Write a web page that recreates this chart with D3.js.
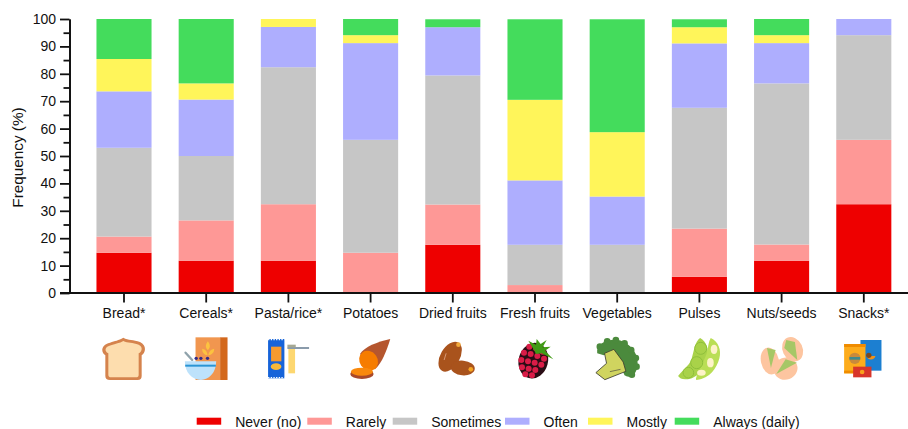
<!DOCTYPE html>
<html>
<head>
<meta charset="utf-8">
<script src="https://cdn.jsdelivr.net/npm/d3@7"></script>
<style>
    html, body { margin: 0; background: #fff; }
    svg { display: block; }
    text { font-family: "Liberation Sans", Arial, sans-serif; fill: #111; }
</style>
</head>
<body>
<div id="chart"></div>
<script>
// Data
var categories = ["Bread*", "Cereals*", "Pasta/rice*", "Potatoes", "Dried fruits", "Fresh fruits", "Vegetables", "Pulses", "Nuts/seeds", "Snacks*"];
var seriesNames = ["Never (no)", "Rarely", "Sometimes", "Often", "Mostly", "Always (daily)"];
var never = [14.7, 11.8, 11.8, 0, 17.6, 0, 0, 5.9, 11.8, 32.4];
var rarely = [5.9, 14.7, 20.6, 14.7, 14.7, 2.9, 0, 17.6, 5.9, 23.5];
var sometimes = [32.4, 23.5, 50, 41.2, 47.1, 14.7, 17.6, 44.1, 58.8, 38.2];
var often = [20.6, 20.6, 14.7, 35.3, 17.6, 23.5, 17.6, 23.5, 14.7, 5.9];
var mostly = [11.8, 5.9, 2.9, 2.9, 0, 29.4, 23.5, 5.9, 2.9, 0];
var always = [14.6, 23.5, 0, 5.9, 2.9, 29.4, 41.2, 2.9, 5.9, 0];
var majorTicks = [0, 10, 20, 30, 40, 50, 60, 70, 80, 90, 100];
var minorTicks = [5, 15, 25, 35, 45, 55, 65, 75, 85, 95];

var colors = ["#ee0000", "#fe9896", "#c6c6c6", "#aeaefe", "#fff55a", "#44dc5c"];

var w = 908;
var h = 429;

var svg = d3.select("#chart")
    .append("svg")
    .attr("width", w)
    .attr("height", h);

var table = categories.map(function (c, i) {
    return {
        category: c,
        "Never (no)": never[i],
        "Rarely": rarely[i],
        "Sometimes": sometimes[i],
        "Often": often[i],
        "Mostly": mostly[i],
        "Always (daily)": always[i]
    };
});

var xScale = d3.scaleBand().domain(categories).range([82.9, 904.9]).paddingInner(0.33).paddingOuter(0.165);
var yScale = d3.scaleLinear().domain([0, 100]).range([293, 19]);
var colorScale = d3.scaleOrdinal().domain(seriesNames).range(colors);

var stacked = d3.stack().keys(seriesNames)(table);

// Bars
svg.append("g")
    .selectAll("g")
    .data(stacked)
    .enter()
    .append("g")
    .attr("fill", function (d) { return colorScale(d.key); })
    .selectAll("rect")
    .data(function (d) { return d; })
    .enter()
    .append("rect")
    .attr("x", function (d) { return xScale(d.data.category); })
    .attr("y", function (d) { return yScale(d[1]); })
    .attr("width", xScale.bandwidth())
    .attr("height", function (d) { return yScale(d[0]) - yScale(d[1]); });

// Y axis, long ticks with labels and short ticks in between
var yAxis = svg.append("g")
    .attr("transform", "translate(69.5,0)")
    .call(d3.axisLeft(yScale).tickValues(majorTicks).tickSize(9.5).tickPadding(4).tickSizeOuter(0));

var yMinor = svg.append("g")
    .attr("transform", "translate(69.5,0)")
    .call(d3.axisLeft(yScale).tickValues(minorTicks).tickSize(6).tickFormat("").tickSizeOuter(0));

// X axis
var xAxis = svg.append("g")
    .attr("transform", "translate(0,293)")
    .call(d3.axisBottom(xScale).tickSize(9.5).tickPadding(6).tickSizeOuter(0));

xAxis.select(".domain").attr("d", "M60,0H908");

[yAxis, yMinor, xAxis].forEach(function (a) {
    a.selectAll("path, line").attr("stroke", "#111").attr("stroke-width", 1.8);
    a.selectAll("text").style("font-size", "14px").style("font-family", "'Liberation Sans'").attr("fill", "#111");
});

svg.append("text")
    .attr("text-anchor", "middle")
    .attr("transform", "translate(23,157.5) rotate(-90)")
    .style("font-size", "15.3px")
    .text("Frequency (%)");

// Legend
var legendLeft = [196.7, 307.3, 392.7, 505, 588, 674.7];
var legend = svg.append("g")
    .selectAll("g")
    .data(seriesNames)
    .enter()
    .append("g")
    .attr("transform", function (d, i) { return "translate(" + legendLeft[i] + ",0)"; });

legend.append("rect")
    .attr("y", 417.7)
    .attr("width", 24.5)
    .attr("height", 7)
    .attr("fill", function (d) { return colorScale(d); });

legend.append("text")
    .attr("x", 38.5)
    .attr("y", 426.5)
    .style("font-size", "14px")
    .text(function (d) { return d; });

// Small pictures under the axis. Drawn at 3x in their own coordinates
function add(g, tag, attrs) {
    var el = g.append(tag);
    Object.keys(attrs).forEach(function (k) { el.attr(k, attrs[k]); });
    return el;
}

function bread(g) {
    add(g, "path", { d: "M60 38C75 32 85 32 100 23C115 32 130 28 150 36C172 46 166 70 155 76L155 138Q155 150 143 150L60 150Q46 150 46 138L46 76C32 68 32 44 60 38Z", fill: "#d5834d" });
    add(g, "path", { d: "M63 46C78 40 88 40 100 33C113 40 128 37 146 44C160 50 156 66 146 70L146 134Q146 142 138 142L64 142Q55 142 55 134L55 70C42 64 44 50 63 46Z", fill: "#fdddae" });
}

function cereals(g) {
    add(g, "rect", { x: 316, y: 22, width: 75, height: 128, fill: "#f1964f" });
    add(g, "rect", { x: 390, y: 22, width: 22, height: 128, fill: "#d3681f" });
    add(g, "path", { d: "M353 34C362 46 360 54 353 60C346 54 344 46 353 34ZM336 56C346 58 351 64 352 76C342 74 336 68 336 56ZM372 56C362 58 356 64 354 76C365 74 372 68 372 56Z", fill: "#fcc23f" });
    add(g, "line", { x1: 286, y1: 68, x2: 306, y2: 90, stroke: "#8fa2ab", "stroke-width": 7, "stroke-linecap": "round" });
    [318, 332, 352].forEach(function (cx) {
        add(g, "circle", { cx: cx, cy: 85, r: 5, fill: "#352a86" });
    });
    add(g, "path", { d: "M284 94L378 94C378 128 356 150 332 150C306 150 284 128 284 94Z", fill: "#bde2fb" });
    add(g, "rect", { x: 285, y: 104, width: 92, height: 6, fill: "#2c95d4" });
}

function pasta(g) {
    add(g, "rect", { x: 24, y: 27, width: 49, height: 118, fill: "#1464d9" });
    add(g, "line", { x1: 24, y1: 29, x2: 73, y2: 29, stroke: "#fff", "stroke-width": 4, "stroke-dasharray": "4 4" });
    add(g, "line", { x1: 24, y1: 143, x2: 73, y2: 143, stroke: "#fff", "stroke-width": 4, "stroke-dasharray": "4 4" });
    add(g, "rect", { x: 33, y: 50, width: 31, height: 44, fill: "#f69a2f" });
    add(g, "ellipse", { cx: 48, cy: 110, rx: 16, ry: 10, fill: "#f8b938" });
    add(g, "rect", { x: 85, y: 46, width: 20, height: 84, fill: "#fdd76f" });
    add(g, "line", { x1: 82, y1: 54, x2: 147, y2: 54, stroke: "#8a9bab", "stroke-width": 6 });
    add(g, "rect", { x: 82, y: 44, width: 25, height: 8, fill: "#a6a892" });
}

function potato(g) {
    add(g, "path", { d: "M391 27C350 36 315 50 300 72L345 118C366 100 381 60 391 27Z", fill: "#b5562f" });
    add(g, "ellipse", { cx: 326, cy: 92, rx: 27, ry: 31, transform: "rotate(-35 326 92)", fill: "#f67c00" });
    add(g, "ellipse", { cx: 306, cy: 132, rx: 35, ry: 15, fill: "#a9492b" });
    add(g, "ellipse", { cx: 306, cy: 125, rx: 33, ry: 12, fill: "#f9890c" });
}

function dates(g) {
    add(g, "ellipse", { cx: 60, cy: 80, rx: 29, ry: 49, transform: "rotate(30 60 80)", fill: "#a9521f" });
    add(g, "circle", { cx: 85, cy: 44, r: 7, fill: "#f2a93b" });
    add(g, "line", { x1: 48, y1: 70, x2: 42, y2: 90, stroke: "#d69a72", "stroke-width": 3 });
    add(g, "ellipse", { cx: 98, cy: 114, rx: 36, ry: 22, transform: "rotate(5 98 114)", fill: "#a9521f" });
    add(g, "circle", { cx: 122, cy: 118, r: 7, fill: "#f5a623" });
}

function raspberry(g) {
    add(g, "ellipse", { cx: 310, cy: 92, rx: 44, ry: 54, transform: "rotate(15 310 92)", fill: "#2a0c12" });
    [[298, 50], [318, 55], [338, 65], [282, 68], [302, 72], [322, 78], [342, 86], [274, 90], [294, 94], [314, 98], [334, 104], [276, 112], [296, 116], [316, 120], [286, 133], [306, 136]].forEach(function (p) {
        add(g, "circle", { cx: p[0], cy: p[1], r: 9, fill: "#d91c47" });
    });
    add(g, "path", { d: "M312 60L295 32L318 44L320 27L332 42L350 30L338 52L362 50L345 62L370 88L335 70L318 72Z", fill: "#3f9a12" });
}

function broccoli(g) {
    add(g, "path", { d: "M22 70C18 42 50 26 85 30C122 38 150 75 142 110C140 132 120 148 104 136L72 62L42 76Z", fill: "#4c8a3c" });
    [[30, 50], [52, 34], [78, 30], [104, 40], [124, 60], [138, 84], [140, 110], [126, 134]].forEach(function (p) {
        add(g, "circle", { cx: p[0], cy: p[1], r: 10, fill: "#4c8a3c" });
    });
    add(g, "path", { d: "M18 128L45 149L108 124L100 96L72 58L44 70L50 100Z", fill: "#d0d45e", stroke: "#3a3a30", "stroke-width": 2.5 });
    add(g, "line", { x1: 60, y1: 125, x2: 92, y2: 118, stroke: "#77784a", "stroke-width": 3 });
}

function pulses(g) {
    add(g, "path", { d: "M264 138C285 112 300 105 305 85C312 60 315 35 330 24C350 35 358 60 352 85C345 115 320 150 285 148C275 148 268 144 264 138Z", fill: "#a9d24a" });
    add(g, "path", { d: "M362 24C385 35 395 60 388 85C380 115 360 145 320 150C310 150 340 100 350 70C355 50 355 35 362 24Z", fill: "#bade55" });
    [[332, 55, 18], [320, 98, 18], [295, 128, 16]].forEach(function (p) {
        add(g, "circle", { cx: p[0], cy: p[1], r: p[2], fill: "none", stroke: "#8fbf3a", "stroke-width": 3 });
    });
    [[372, 58, 10, 14], [361, 98, 10, 14], [334, 128, 13, 9]].forEach(function (p) {
        add(g, "ellipse", { cx: p[0], cy: p[1], rx: p[2], ry: p[3], fill: "#fdf3c8" });
    });
}

function pistachio(g) {
    add(g, "ellipse", { cx: 65, cy: 93, rx: 27, ry: 41, transform: "rotate(-12 65 93)", fill: "#fdc5a0" });
    add(g, "path", { d: "M56 54L82 60L68 114Z", fill: "#a6c766" });
    add(g, "ellipse", { cx: 133, cy: 58, rx: 30, ry: 38, transform: "rotate(-25 133 58)", fill: "#fdc5a0" });
    add(g, "path", { d: "M114 30L140 36L147 90L108 54Z", fill: "#a6c766" });
    add(g, "ellipse", { cx: 112, cy: 116, rx: 36, ry: 33, transform: "rotate(-20 112 116)", fill: "#fdc5a0" });
    add(g, "path", { d: "M112 88L146 98L84 132Z", fill: "#a6c766" });
}

function snacks(g) {
    add(g, "rect", { x: 337, y: 30, width: 63, height: 92, fill: "#1a7fd1" });
    add(g, "path", { d: "M355 78A14 14 0 0 0 382 78Z", fill: "#f0921e" });
    add(g, "circle", { cx: 362, cy: 76, r: 8, fill: "#7a4a24" });
    add(g, "rect", { x: 288, y: 42, width: 64, height: 88, fill: "#fdac1b" });
    add(g, "rect", { x: 288, y: 42, width: 64, height: 9, fill: "#f08c00" });
    add(g, "rect", { x: 288, y: 122, width: 64, height: 8, fill: "#f08c00" });
    add(g, "circle", { cx: 320, cy: 85, r: 17, fill: "#c98a3a" });
    add(g, "rect", { x: 304, y: 81, width: 32, height: 8, fill: "#3f8a8c" });
    add(g, "rect", { x: 315, y: 110, width: 55, height: 32, fill: "#d8352a" });
    add(g, "circle", { cx: 342, cy: 126, r: 7, fill: "#f9a11b" });
}

// Each picture with the x that sits under its tick
var icons = [[bread, 102], [cereals, 348], [pasta, 85], [potato, 332], [dates, 68], [raspberry, 315], [broccoli, 82], [pulses, 328], [pistachio, 100], [snacks, 347]];

var blur = svg.append("defs").append("filter").attr("id", "soft");
blur.append("feGaussianBlur").attr("stdDeviation", 1.2);

categories.forEach(function (c, i) {
    var g = svg.append("g")
        .attr("filter", "url(#soft)")
        .attr("transform", "translate(" + (xScale(c) + xScale.bandwidth() / 2) + ",358) scale(0.3333) translate(" + (-icons[i][1]) + ",-84)");
    icons[i][0](g);
});
</script>
</body>
</html>
